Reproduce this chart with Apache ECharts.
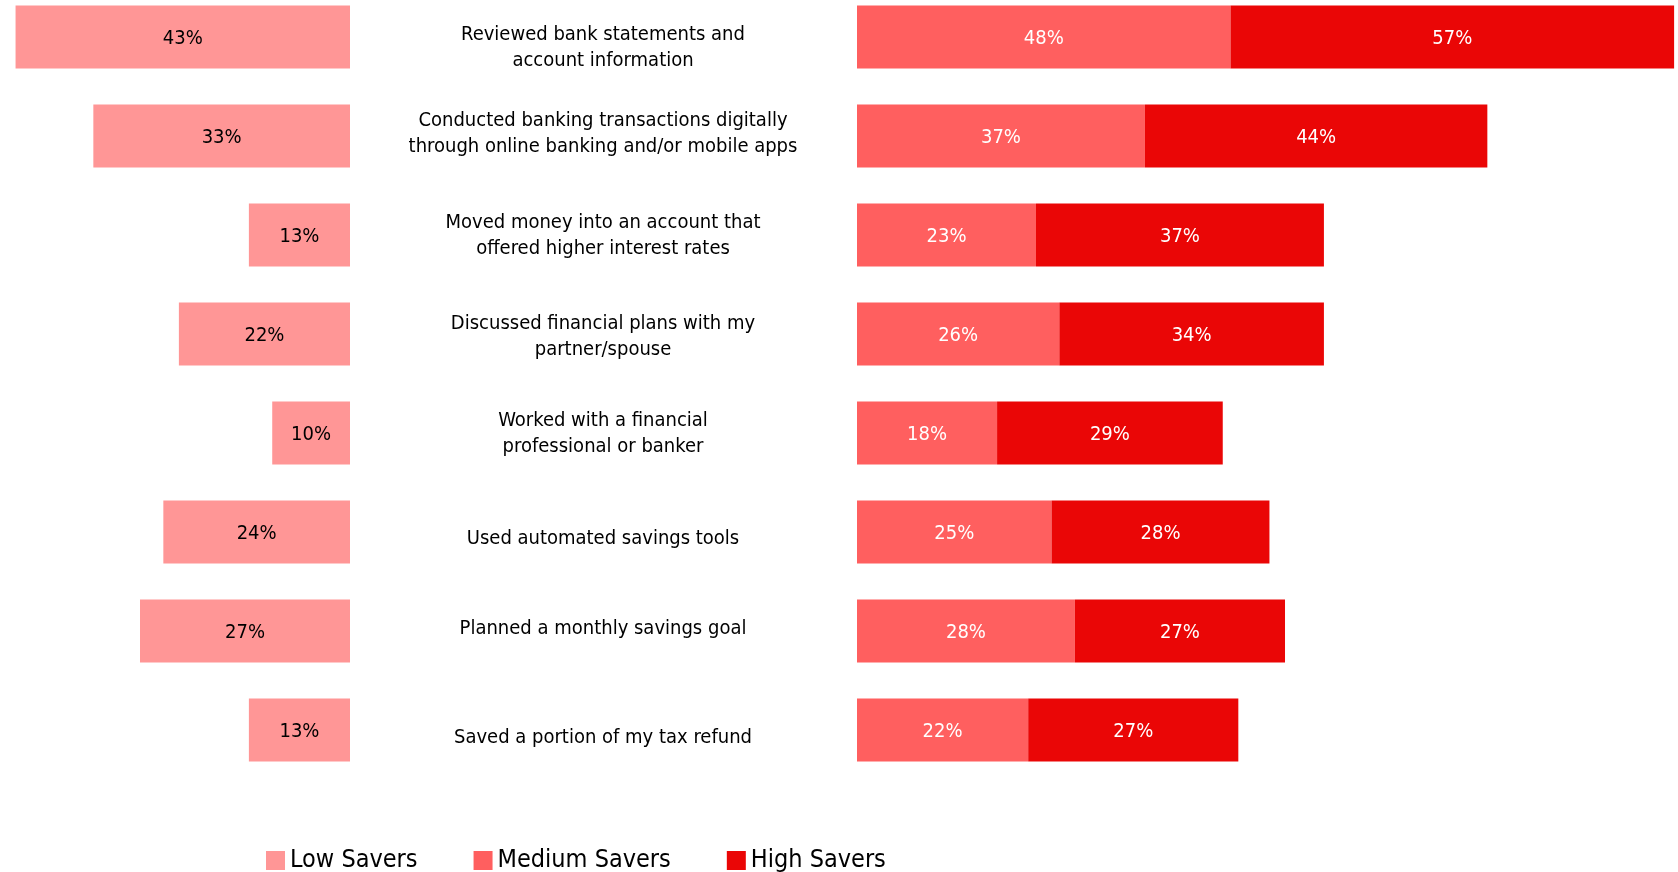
<!DOCTYPE html>
<html>
<head>
<meta charset="utf-8">
<title>Savings actions by saver group</title>
<script src="https://cdn.jsdelivr.net/npm/echarts@6/dist/echarts.min.js"></script>
<style>
  html, body { margin: 0; padding: 0; background: #fff; }
  #chart { width: 1678px; height: 872px; }
</style>
</head>
<body>
<div id="chart"></div>
<script>
// Actions taken, share of respondents by saver group (%)
const categories = [
  'Reviewed bank statements and\naccount information',
  'Conducted banking transactions digitally\nthrough online banking and/or mobile apps',
  'Moved money into an account that\noffered higher interest rates',
  'Discussed financial plans with my\npartner/spouse',
  'Worked with a financial\nprofessional or banker',
  'Used automated savings tools',
  'Planned a monthly savings goal',
  'Saved a portion of my tax refund'
];
const lowSavers = [43, 33, 13, 22, 10, 24, 27, 13];
const mediumSavers = [48, 37, 23, 26, 18, 25, 28, 22];
const highSavers = [57, 44, 37, 34, 29, 28, 27, 27];
const seriesNames = ['Low Savers', 'Medium Savers', 'High Savers'];

// vertical nudge (px) for each centre caption
const captionNudge = [11, -2, 1, 3, 1, 7, -2, 8];

const FONT = '"DejaVu Sans Condensed", "Liberation Sans Narrow", sans-serif';
const COLORS = ['#FF9696', '#FF5F5F', '#EA0606'];

// captions sit in the gap between the two bar panels
const captionPoints = categories.map((c, i) => ({
  value: [0, i],
  label: { offset: [-254, captionNudge[i]] }
}));

const chart = echarts.init(document.getElementById('chart'), null, { renderer: 'canvas' });

const valueLabel = (color) => ({
  show: true,
  position: 'inside',
  offset: [0, 2],
  color: color,
  fontFamily: FONT,
  fontSize: 20,
  formatter: (p) => p.value + '%'
});

const hiddenCategoryAxis = (gridIndex) => ({
  gridIndex: gridIndex,
  type: 'category',
  data: categories,
  inverse: true,
  boundaryGap: false,
  axisLine: { show: false },
  axisTick: { show: false },
  axisLabel: { show: false },
  splitLine: { show: false }
});

chart.setOption({
  animation: false,
  textStyle: { fontFamily: FONT },
  legend: {
    data: seriesNames,
    left: 261,
    top: 843,
    icon: 'rect',
    itemWidth: 19,
    itemHeight: 19,
    itemGap: 56,
    textStyle: { fontFamily: FONT, fontSize: 25, color: '#000' }
  },
  grid: [
    { left: 0, width: 350, top: 37, height: 693, containLabel: false },
    { left: 857, width: 821, top: 37, height: 693, containLabel: false }
  ],
  xAxis: [
    { gridIndex: 0, type: 'value', min: 0, max: 45, inverse: true, show: false },
    { gridIndex: 1, type: 'value', min: 0, max: 105.5, show: false }
  ],
  yAxis: [hiddenCategoryAxis(0), hiddenCategoryAxis(1)],
  series: [
    {
      name: seriesNames[0], type: 'bar', xAxisIndex: 0, yAxisIndex: 0,
      data: lowSavers, barWidth: 63, clip: false, itemStyle: { color: COLORS[0] },
      label: valueLabel('#000')
    },
    {
      name: seriesNames[1], type: 'bar', xAxisIndex: 1, yAxisIndex: 1, stack: 'right',
      data: mediumSavers, barWidth: 63, clip: false, itemStyle: { color: COLORS[1] },
      label: valueLabel('#fff')
    },
    {
      name: seriesNames[2], type: 'bar', xAxisIndex: 1, yAxisIndex: 1, stack: 'right',
      data: highSavers, barWidth: 63, clip: false, itemStyle: { color: COLORS[2] },
      label: valueLabel('#fff')
    },
    {
      name: 'captions', type: 'scatter', xAxisIndex: 1, yAxisIndex: 1,
      data: captionPoints, symbolSize: 1, silent: true, clip: false,
      itemStyle: { color: 'rgba(0,0,0,0)' },
      label: {
        show: true,
        position: 'inside',
        align: 'center',
        verticalAlign: 'middle',
        fontFamily: FONT,
        fontSize: 20,
        lineHeight: 26,
        color: '#000',
        opacity: 1,
        textBorderWidth: 0,
        formatter: (p) => categories[p.dataIndex]
      }
    }
  ]
});
</script>
</body>
</html>
